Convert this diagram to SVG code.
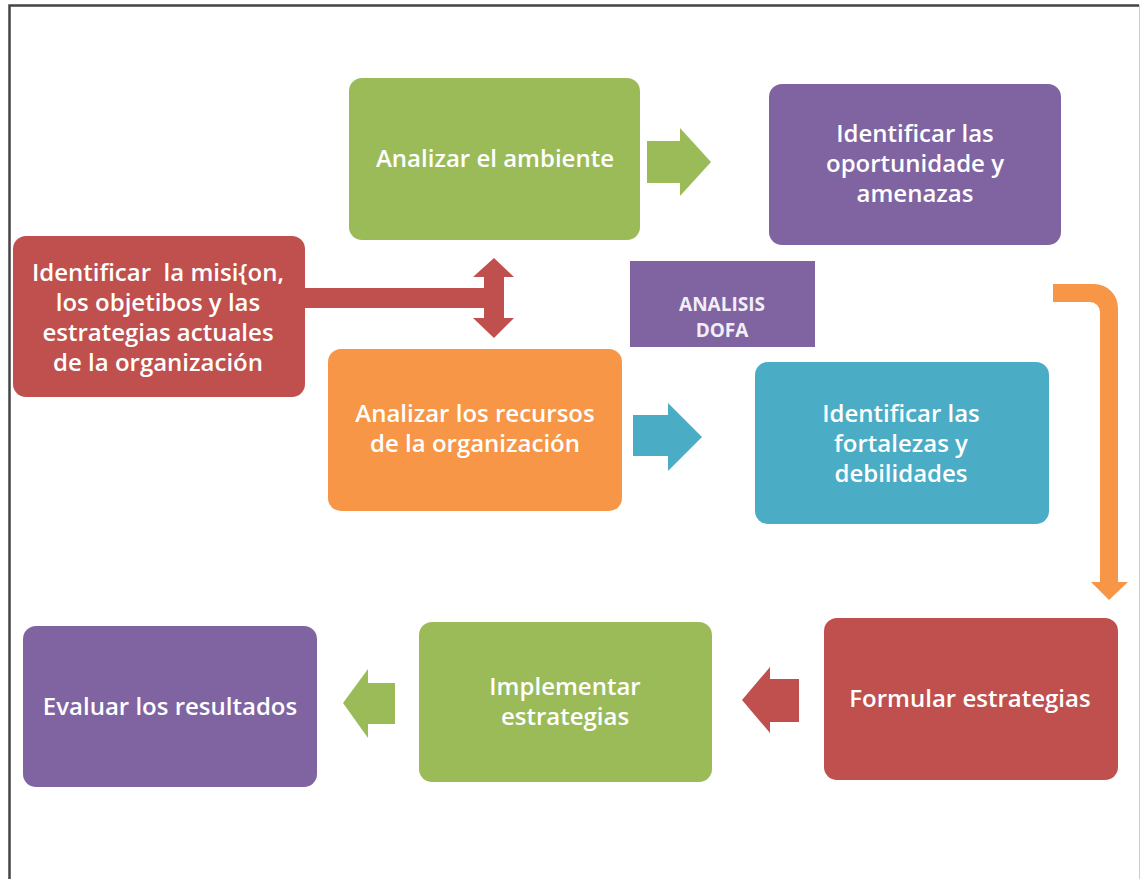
<svg xmlns="http://www.w3.org/2000/svg" width="1142" height="879" viewBox="0 0 1142 879">
  <style>
    .lbl { font-family: "Open Sans", Lato, "Liberation Sans", sans-serif; font-size: 24px; font-weight: 600; fill: #ffffff; text-anchor: middle; }
    .small { font-family: "Open Sans", Lato, "Liberation Sans", sans-serif; font-size: 19px; font-weight: bold; fill: #f2eef6; text-anchor: middle; }
    .green { fill: #9bbb59; }
    .purple { fill: #8064a2; }
    .red { fill: #c0504d; }
    .orange { fill: #f79646; }
    .teal { fill: #4bacc6; }
  </style>

  <!-- page frame -->
  <rect x="0" y="0" width="1142" height="879" fill="#ffffff"/>
  <path d="M9.5,879 V5.5 H1139" fill="none" stroke="#444444" stroke-width="2.5"/>
  <line x1="1139.5" y1="5" x2="1139.5" y2="879" stroke="#cccccc" stroke-width="1"/>

  <!-- connectors -->
  <g id="connectors">
    <!-- mission to environment / resources -->
    <rect class="red" x="300" y="288" width="186" height="20"/>
    <path class="red" d="M494,258 L514,277 L504,277 L504,318 L514,318 L494,338 L473,318 L484,318 L484,277 L473,277 Z"/>
    <!-- environment -> opportunities -->
    <path class="green" d="M647,141 H680 V128 L711,162 L680,196 V183 H647 Z"/>
    <!-- resources -> strengths -->
    <path class="teal" d="M633,415 H668 V403 L702,437 L668,471 V456 H633 Z"/>
    <!-- DOFA -> formulate -->
    <path class="orange" d="M1053,284 H1094 A24,24 0 0 1 1118,308 V582 H1128 L1109,600 L1091,582 H1100 V312 A10,10 0 0 0 1090,302 H1053 Z"/>
    <!-- formulate -> implement -->
    <path class="red" d="M799,679 H770 V667 L742,700 L770,733 V722 H799 Z"/>
    <!-- implement -> evaluate -->
    <path class="green" d="M395,683 H368 V669 L343,703 L368,738 V724 H395 Z"/>
  </g>

  <g id="analizar-ambiente">
    <rect class="green" x="349" y="78" width="291" height="162" rx="13"/>
    <text class="lbl" x="495" y="167">Analizar el ambiente</text>
  </g>

  <g id="oportunidades">
    <rect class="purple" x="769" y="84" width="292" height="161" rx="13"/>
    <text class="lbl" x="915" y="142">Identificar las</text>
    <text class="lbl" x="915" y="172">oportunidade y</text>
    <text class="lbl" x="915" y="202">amenazas</text>
  </g>

  <g id="mision">
    <rect class="red" x="13" y="236" width="292" height="161" rx="13"/>
    <text class="lbl" x="158" y="281" xml:space="preserve">Identificar  la misi{on,</text>
    <text class="lbl" x="158" y="311">los objetibos y las</text>
    <text class="lbl" x="158" y="341">estrategias actuales</text>
    <text class="lbl" x="158" y="371">de la organización</text>
  </g>

  <g id="analisis-dofa">
    <rect class="purple" x="630" y="261" width="185" height="86"/>
    <text class="small" x="722" y="311">ANALISIS</text>
    <text class="small" x="722" y="337">DOFA</text>
  </g>

  <g id="analizar-recursos">
    <rect class="orange" x="328" y="349" width="294" height="162" rx="13"/>
    <text class="lbl" x="475" y="422">Analizar los recursos</text>
    <text class="lbl" x="475" y="452">de la organización</text>
  </g>

  <g id="fortalezas">
    <rect class="teal" x="755" y="362" width="294" height="162" rx="13"/>
    <text class="lbl" x="901" y="422">Identificar las</text>
    <text class="lbl" x="901" y="452">fortalezas y</text>
    <text class="lbl" x="901" y="482">debilidades</text>
  </g>

  <g id="evaluar">
    <rect class="purple" x="23" y="626" width="294" height="161" rx="13"/>
    <text class="lbl" x="170" y="715">Evaluar los resultados</text>
  </g>

  <g id="implementar">
    <rect class="green" x="419" y="622" width="293" height="160" rx="13"/>
    <text class="lbl" x="565" y="695">Implementar</text>
    <text class="lbl" x="565" y="725">estrategias</text>
  </g>

  <g id="formular">
    <rect class="red" x="824" y="618" width="294" height="162" rx="13"/>
    <text class="lbl" x="970" y="707">Formular estrategias</text>
  </g>
</svg>
